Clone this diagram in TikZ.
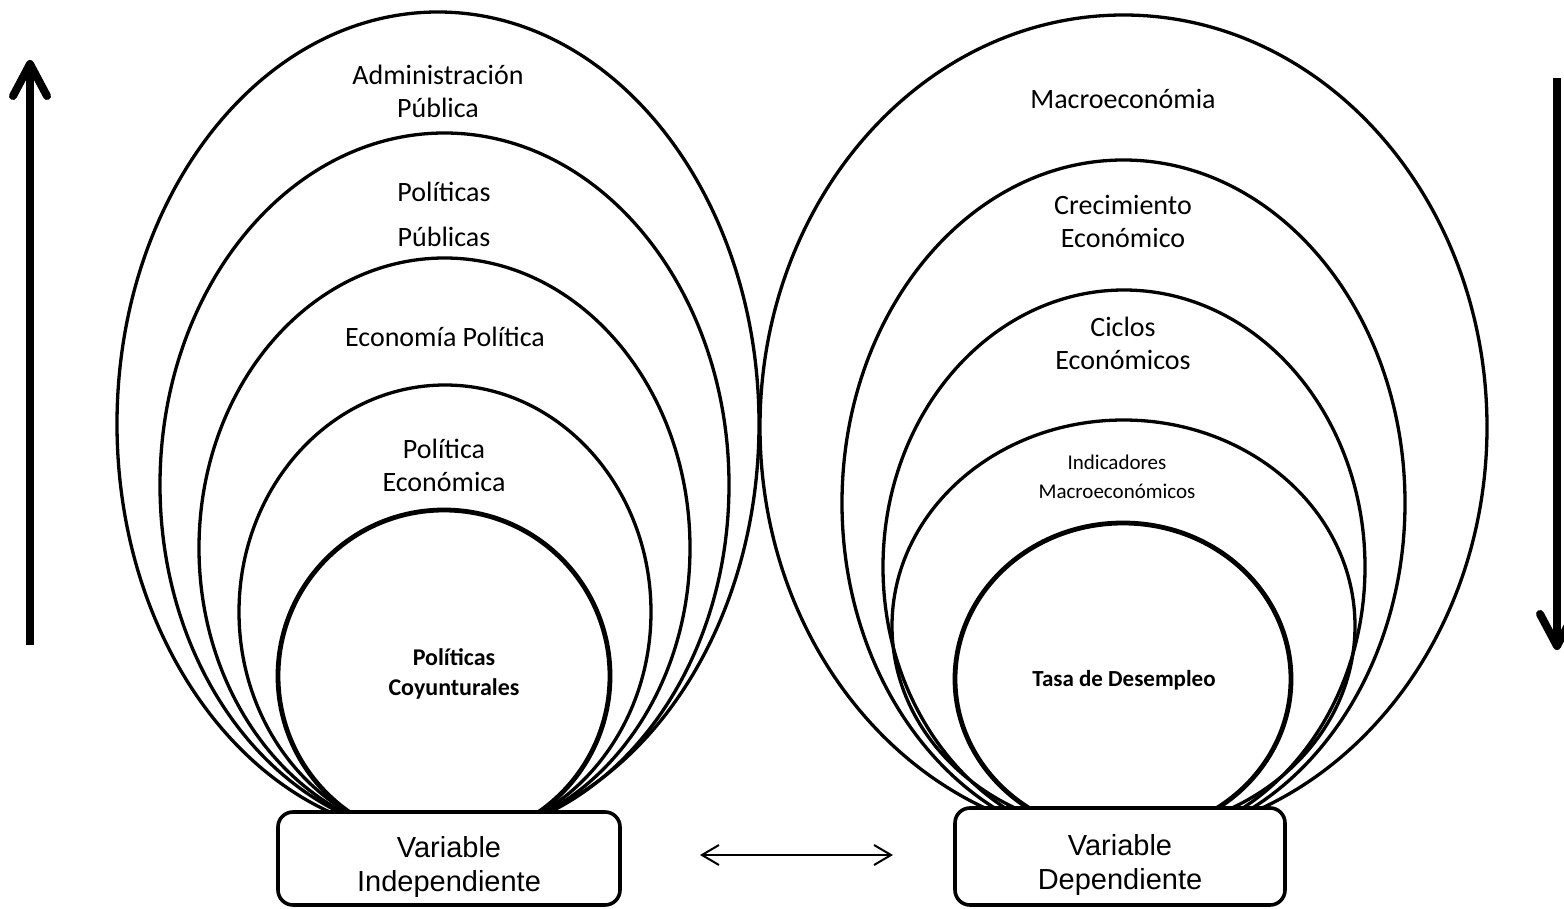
\documentclass[tikz,border=0pt]{standalone}
\usepackage{fontspec}
\setmainfont{Carlito}
\newfontfamily\arialf{Liberation Sans}
\usetikzlibrary{arrows.meta}
\newcommand\boxtext[2]{\raisebox{-4.5pt}[\height][\depth]{\begin{tabular}{@{}c@{}}#1\\#2\end{tabular}}}
\tikzset{
  ring/.style={line width=1.65pt},
  core/.style={line width=2.4pt},
  lbl/.style={font=\fontsize{14}{16.5}\selectfont, align=center, inner sep=0pt},
  smalllbl/.style={font=\fontsize{10.5}{14.5}\selectfont, align=center, inner sep=0pt},
  boldlbl/.style={font=\bfseries\fontsize{12}{15}\selectfont, align=center, inner sep=0pt},
  vbox/.style={draw, line width=1.8pt, rounded corners=7.5pt, fill=white, align=center,
    font=\arialf\fontsize{14.5}{17}\selectfont, inner sep=0pt},
  bigarrow/.style={line width=4pt, -{Straight Barb[length=16pt,width=17pt,round]}},
  linkarrow/.style={line width=1pt, {Straight Barb[length=8.5pt,width=10pt]}-{Straight Barb[length=8.5pt,width=10pt]}}
}
\begin{document}
\begin{tikzpicture}[x=0.5pt,y=-0.5pt]
\useasboundingbox (0,0) rectangle (1564,909);
% left group
\draw[ring] (438,424) ellipse [x radius=321, y radius=412];
\draw[ring] (444.5,485) ellipse [x radius=284.5, y radius=352];
\draw[ring] (444.5,548) ellipse [x radius=245.5, y radius=290];
\draw[ring] (445,612) ellipse [x radius=206, y radius=227];
\draw[core] (444,676) ellipse [x radius=166, y radius=166];
% right group
\draw[ring] (1123.5,427) ellipse [x radius=363.5, y radius=412];
\draw[ring] (1123.5,503) ellipse [x radius=281.5, y radius=343];
\draw[ring] (1124,567) ellipse [x radius=241, y radius=277];
\draw[ring] (1123.5,626) ellipse [x radius=231.5, y radius=206];
\draw[core] (1123,679) ellipse [x radius=168, y radius=156];
% labels left
\node[lbl] (adm) at (438,91) {Administración\\Pública};
\node[lbl, font=\fontsize{14}{22.5}\selectfont] (pp) at (444,214) {Políticas\\Públicas};
\node[lbl] (ep) at (445,337) {Economía Política};
\node[lbl] (pe) at (444,465) {Política\\Económica};
\node[boldlbl] (pc) at (454,674) {Políticas\\Coyunturales};
% labels right
\node[lbl] (mac) at (1123,99) {Macroeconómia};
\node[lbl] (ce) at (1123,221) {Crecimiento\\Económico};
\node[lbl] (cic) at (1123,343) {Ciclos\\Económicos};
\node[smalllbl] (ind) at (1117,477) {Indicadores\\Macroeconómicos};
\node[boldlbl, font=\bfseries\fontsize{11.5}{14}\selectfont] (tasa) at (1124,680) {Tasa de Desempleo};
% boxes
\node[vbox, minimum width=171pt, minimum height=46.5pt] (vi) at (449,858.5) {\boxtext{Variable}{Independiente}};
\node[vbox, minimum width=165pt, minimum height=48.5pt] (vd) at (1120,856.5) {\boxtext{Variable}{Dependiente}};
% arrows
\coordinate (upS) at (30,645);
\coordinate (upE) at (30,60);
\draw[bigarrow] (upS) -- (upE);
\coordinate (dnS) at (1557,78);
\coordinate (dnE) at (1557,650);
\draw[bigarrow] (dnS) -- (dnE);
\coordinate (lkL) at (700,855);
\coordinate (lkR) at (893,855);
\draw[linkarrow] (lkL) -- (lkR);
\end{tikzpicture}
\end{document}
